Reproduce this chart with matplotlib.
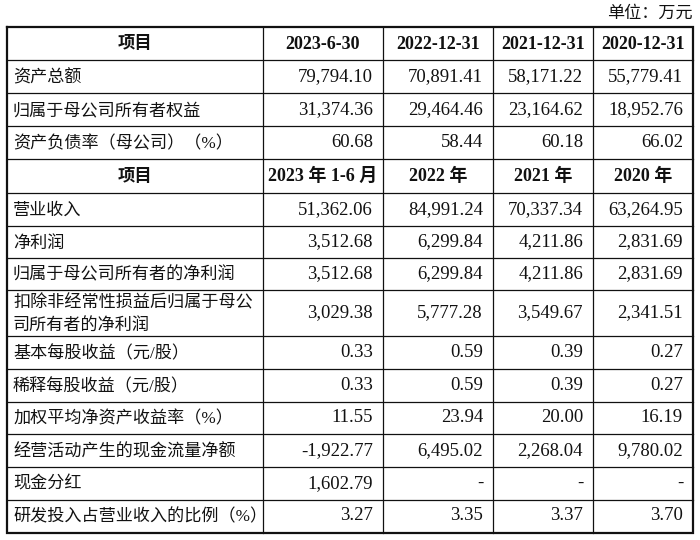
import matplotlib.pyplot as plt

# 表格数据
unit_text = "单位：万元"

head_1 = ["项目", "2023-6-30", "2022-12-31", "2021-12-31", "2020-12-31"]
rows_1 = ["资产总额", "归属于母公司所有者权益", "资产负债率（母公司）（%）"]
vals_1 = [
    [79794.10, 70891.41, 58171.22, 55779.41],
    [31374.36, 29464.46, 23164.62, 18952.76],
    [60.68, 58.44, 60.18, 66.02],
]

head_2 = ["项目", "2023 年 1-6 月", "2022 年", "2021 年", "2020 年"]
rows_2 = [
    "营业收入",
    "净利润",
    "归属于母公司所有者的净利润",
    "扣除非经常性损益后归属于母公\n司所有者的净利润",
    "基本每股收益（元/股）",
    "稀释每股收益（元/股）",
    "加权平均净资产收益率（%）",
    "经营活动产生的现金流量净额",
    "现金分红",
    "研发投入占营业收入的比例（%）",
]
vals_2 = [
    [51362.06, 84991.24, 70337.34, 63264.95],
    [3512.68, 6299.84, 4211.86, 2831.69],
    [3512.68, 6299.84, 4211.86, 2831.69],
    [3029.38, 5777.28, 3549.67, 2341.51],
    [0.33, 0.59, 0.39, 0.27],
    [0.33, 0.59, 0.39, 0.27],
    [11.55, 23.94, 20.00, 16.19],
    [-1922.77, 6495.02, 2268.04, 9780.02],
    [1602.79, None, None, None],
    [3.27, 3.35, 3.37, 3.70],
]

# 版面 (像素)
col_x = [7, 263, 383, 493, 593, 693]
row_y = [26.5, 60, 93, 126, 159, 192.5, 226, 258, 290, 336, 369, 402,
         434, 467, 499.5, 532.5]

FAM = ["Liberation Serif", "Noto Sans CJK SC", "DejaVu Sans"]
INK = "#111111"


def fmt(v):
    if v is None:
        return "-"
    return f"{v:,.2f}"


fig = plt.figure(figsize=(7, 5.4), dpi=100)
ax = fig.add_axes([0, 0, 1, 1])
ax.set_xlim(0, 700)
ax.set_ylim(540, 0)
ax.axis("off")

ax.text(693, 14, unit_text, family=FAM, fontsize=12.3, color=INK,
        ha="right", va="center")

# 行内容
table = [("head", head_1)] + [("row", (l, v)) for l, v in zip(rows_1, vals_1)] \
    + [("head", head_2)] + [("row", (l, v)) for l, v in zip(rows_2, vals_2)]

for i, (kind, content) in enumerate(table):
    y0, y1 = row_y[i], row_y[i + 1]
    yc = (y0 + y1) / 2
    if kind == "head":
        for j, txt in enumerate(content):
            xc = (col_x[j] + col_x[j + 1]) / 2
            size = 12.5 if j == 0 else 13
            ax.text(xc, yc + 1, txt, family=FAM, fontsize=size, weight="bold",
                    color=INK, ha="center", va="center")
    else:
        label, vals = content
        lines = label.split("\n")
        step = 22
        top = yc + 1.5 - step * (len(lines) - 1) / 2
        for k, ln in enumerate(lines):
            ax.text(col_x[0] + 6, top + k * step, ln, family=FAM,
                    fontsize=12.3, color=INK, ha="left", va="center")
        for j, v in enumerate(vals):
            ax.text(col_x[j + 2] - 10, yc, fmt(v), family=FAM, fontsize=13.5,
                    color=INK, ha="right", va="center")

# 表格线
for y in row_y[1:-1]:
    ax.plot([col_x[0], col_x[-1]], [y, y], color=INK, lw=0.9)
for x in col_x[1:-1]:
    ax.plot([x, x], [row_y[0], row_y[-1]], color=INK, lw=0.9)
ax.plot([col_x[0], col_x[-1], col_x[-1], col_x[0], col_x[0]],
        [row_y[0], row_y[0], row_y[-1], row_y[-1], row_y[0]],
        color=INK, lw=1.6, solid_joinstyle="miter")

fig.savefig("out.png", dpi=100, facecolor="white")
plt.close(fig)
